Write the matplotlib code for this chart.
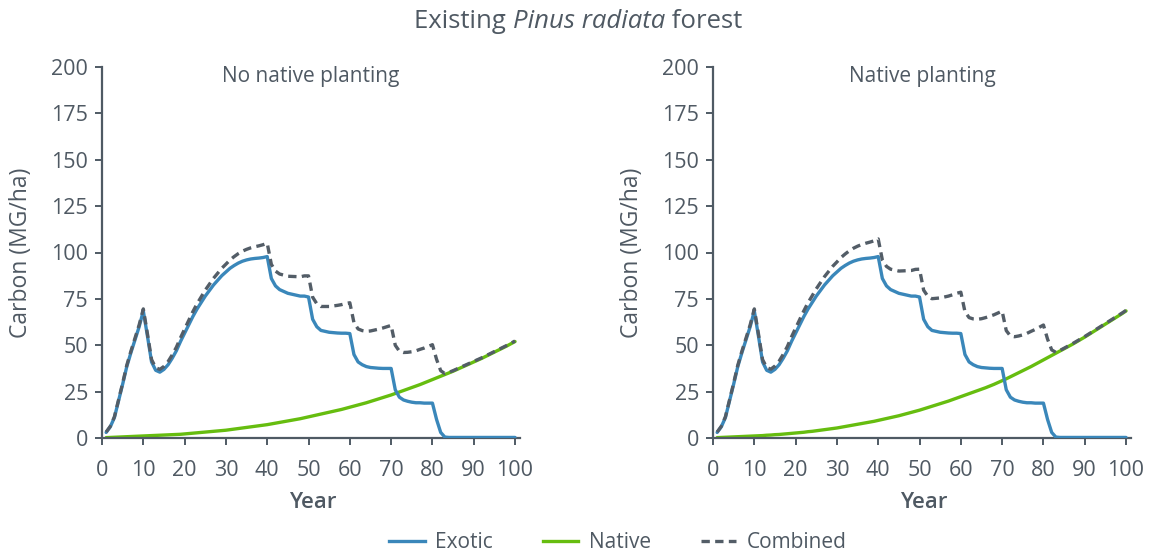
import matplotlib
matplotlib.use("Agg")
import matplotlib.pyplot as plt
from matplotlib.lines import Line2D
from matplotlib.offsetbox import TextArea, HPacker, AnnotationBbox

plt.rcParams['font.family'] = ['Open Sans', 'DejaVu Sans']

# --- data (carbon, Mg/ha, per year 1..100) ---
years = list(range(1, 101))

exotic = [
    3.0, 6.0, 11.0, 20.0, 29.0, 38.5, 46.0, 53.0, 60.0, 68.5,
    55.0, 41.0, 36.5, 35.5, 37.0, 39.5, 43.0, 47.0, 52.0, 56.5,
    61.0, 65.5, 69.5, 73.0, 76.5, 79.5, 82.5, 85.0, 87.5, 89.5,
    91.5, 93.0, 94.3, 95.3, 96.0, 96.5, 96.8, 97.0, 97.3, 97.8,
    86.0, 82.0, 80.0, 79.0, 78.0, 77.5, 77.0, 76.5, 76.5, 76.0,
    64.0, 60.0, 58.0, 57.5, 57.0, 56.8, 56.6, 56.5, 56.5, 56.3,
    45.0, 41.0, 39.5, 38.5, 38.0, 37.8, 37.6, 37.5, 37.5, 37.5,
    26.0, 22.0, 20.5, 19.8, 19.3, 19.0, 19.0, 18.8, 18.8, 18.8,
    10.0, 3.0, 0.5, 0.3, 0.3, 0.3, 0.3, 0.3, 0.3, 0.3,
    0.3, 0.3, 0.3, 0.3, 0.3, 0.3, 0.3, 0.3, 0.3, 0.3,
]

native_none = [
    0.2, 0.3, 0.4, 0.5, 0.6, 0.7, 0.8, 0.9, 1.0, 1.1,
    1.2, 1.3, 1.4, 1.5, 1.6, 1.7, 1.8, 1.9, 2.0, 2.2,
    2.4, 2.6, 2.8, 3.0, 3.2, 3.4, 3.6, 3.8, 4.0, 4.2,
    4.5, 4.8, 5.1, 5.4, 5.7, 6.0, 6.3, 6.6, 6.9, 7.2,
    7.6, 8.0, 8.4, 8.8, 9.2, 9.6, 10.0, 10.4, 10.9, 11.4,
    11.9, 12.4, 12.9, 13.4, 13.9, 14.4, 14.9, 15.4, 16.0, 16.6,
    17.2, 17.8, 18.4, 19.0, 19.7, 20.4, 21.1, 21.8, 22.5, 23.2,
    24.0, 24.8, 25.6, 26.4, 27.2, 28.0, 28.8, 29.7, 30.6, 31.5,
    32.4, 33.3, 34.2, 35.1, 36.0, 37.0, 38.0, 39.0, 40.0, 41.0,
    42.0, 43.0, 44.1, 45.2, 46.3, 47.4, 48.5, 49.6, 50.8, 52.0,
]

native_planted = [
    0.2, 0.3, 0.4, 0.5, 0.6, 0.7, 0.8, 0.9, 1.0, 1.1,
    1.2, 1.3, 1.5, 1.6, 1.8, 1.9, 2.1, 2.3, 2.5, 2.7,
    2.9, 3.1, 3.4, 3.6, 3.9, 4.2, 4.5, 4.8, 5.1, 5.4,
    5.8, 6.2, 6.6, 7.0, 7.4, 7.8, 8.2, 8.6, 9.0, 9.5,
    10.0, 10.5, 11.0, 11.5, 12.0, 12.6, 13.2, 13.8, 14.4, 15.0,
    15.7, 16.4, 17.1, 17.8, 18.5, 19.2, 19.9, 20.7, 21.5, 22.3,
    23.1, 23.9, 24.7, 25.5, 26.3, 27.1, 28.0, 28.9, 29.9, 30.9,
    31.9, 33.0, 34.1, 35.2, 36.3, 37.4, 38.5, 39.7, 40.9, 42.1,
    43.3, 44.5, 45.7, 46.9, 48.1, 49.3, 50.5, 51.8, 53.1, 54.4,
    55.8, 57.2, 58.6, 60.0, 61.4, 62.8, 64.2, 65.6, 67.0, 68.5,
]

panel_titles = ["No native planting", "Native planting"]
x_ticks = list(range(0, 101, 10))
y_ticks = list(range(0, 201, 25))

BLUE = '#3a87ba'
GREEN = '#66bd0f'
DARK = '#535d67'
TEXT = '#4f5963'
AXIS = '#4f5a64'
DASH = (0, (2.5, 1.6))

fig = plt.figure(figsize=(11.54, 5.58), dpi=100)
W, H = 1154, 558

# axes placement in pixels (left, right), shared top/bottom
panels = [(102, 520), (713, 1131)]
top_px, bot_px = 67, 438

for (l, r), title, native in zip(panels, panel_titles, [native_none, native_planted]):
    ax = fig.add_axes([l / W, (H - bot_px) / H, (r - l) / W, (bot_px - top_px) / H])
    combined = [e + n for e, n in zip(exotic, native)]

    ax.plot(years, native, color=GREEN, lw=2.4, solid_capstyle='round', zorder=2)
    ax.plot(years, exotic, color=BLUE, lw=2.4, solid_capstyle='round', zorder=3)
    ax.plot(years, combined, color=DARK, lw=2.4, ls=DASH, zorder=4)

    ax.set_xlim(0, 101.2)
    ax.set_ylim(0, 200)
    ax.set_xticks(x_ticks)
    ax.set_yticks(y_ticks)
    for side in ['top', 'right']:
        ax.spines[side].set_visible(False)
    for side in ['left', 'bottom']:
        ax.spines[side].set_color(AXIS)
        ax.spines[side].set_linewidth(1.6)
    ax.tick_params(colors=AXIS, labelcolor=TEXT, labelsize=15.5, width=1.4, length=5)
    ax.tick_params(axis='x', pad=11)
    ax.tick_params(axis='y', pad=5)

    w_px = r - l
    ax.set_xlabel("Year", fontsize=16, color=TEXT, fontweight='semibold', va='center')
    ax.xaxis.set_label_coords(0.505, (bot_px - 502) / (bot_px - top_px))
    ax.set_ylabel("Carbon (MG/ha)", fontsize=16.5, color=TEXT, fontweight='medium', va='center')
    ax.yaxis.set_label_coords(-81 / w_px, 0.5)
    ax.text(0.5, 0.975, title, transform=ax.transAxes, ha='center', va='center',
            fontsize=15, color=TEXT)

# figure title with italic species name
parts = [TextArea("Existing ", textprops=dict(fontsize=18.5, color=TEXT)),
         TextArea("Pinus radiata", textprops=dict(fontsize=18.5, color=TEXT, style='italic')),
         TextArea(" forest", textprops=dict(fontsize=18.5, color=TEXT))]
box = HPacker(children=parts, align='baseline', pad=0, sep=0)
ab = AnnotationBbox(box, (578 / W, (H - 21) / H), xycoords='figure fraction',
                    frameon=False, box_alignment=(0.5, 0.5))
fig.add_artist(ab)

handles = [Line2D([], [], color=BLUE, lw=2.4),
           Line2D([], [], color=GREEN, lw=2.4),
           Line2D([], [], color=DARK, lw=2.4, ls=DASH)]
fig.legend(handles, ["Exotic", "Native", "Combined"], loc='center', ncol=3,
           bbox_to_anchor=(618 / W, (H - 543) / H), frameon=False,
           fontsize=15, labelcolor=TEXT, handlelength=1.7, handletextpad=0.5,
           columnspacing=2.4)

fig.savefig("out.png", dpi=100)
